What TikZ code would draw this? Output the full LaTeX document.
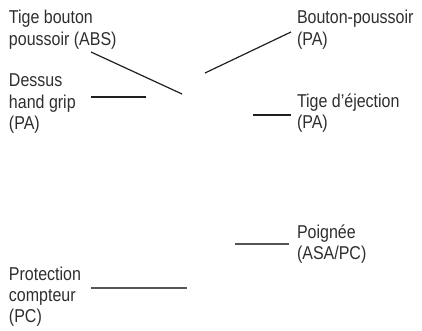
\documentclass[tikz,border=0pt]{standalone}
\usepackage{fontspec}
\setmainfont{Liberation Sans}[FakeStretch=0.86]
\definecolor{txt}{HTML}{2E2E2E}
\definecolor{dark}{HTML}{202020}
\definecolor{grey}{HTML}{555555}
\begin{document}
\begin{tikzpicture}[x=1pt,y=-1pt,
  lbl/.style={anchor=base west,inner sep=0pt,outer sep=0pt,text=txt,
    font=\fontsize{18.6}{21.3}\selectfont},
  lead/.style={line width=1.2pt,draw=dark},
  leadgrey/.style={line width=1.2pt,draw=grey}]
\useasboundingbox (0,0) rectangle (422,331);
% labels
\node[lbl] (tige) at (9,24) {\vtop{\hbox{Tige bouton}\hbox{poussoir (ABS)}}};
\node[lbl] (dessus) at (9,87) {\vtop{\hbox{Dessus}\hbox{hand grip}\hbox{(PA)}}};
\node[lbl] (bouton) at (297,24) {\vtop{\hbox{Bouton-poussoir}\hbox{(PA)}}};
\node[lbl] (eject) at (297,107.5) {\vtop{\hbox{Tige d'éjection}\hbox{(PA)}}};
\node[lbl] (poignee) at (297,238.5) {\vtop{\hbox{Poignée}\hbox{(ASA/PC)}}};
\node[lbl] (protec) at (9,280) {\vtop{\hbox{Protection}\hbox{compteur}\hbox{(PC)}}};
% leader end points
\coordinate (tigeA) at (91,52);   \coordinate (tigeB) at (182,94);
\coordinate (boutA) at (291,32);  \coordinate (boutB) at (205,73);
\coordinate (dessA) at (91,97);   \coordinate (dessB) at (146,97);
\coordinate (ejecA) at (291,115); \coordinate (ejecB) at (253,115);
\coordinate (poigA) at (289,244); \coordinate (poigB) at (235,244);
\coordinate (protA) at (91,288);  \coordinate (protB) at (187,288);
% leaders
\draw[lead] (tigeA) -- (tigeB);
\draw[lead] (boutA) -- (boutB);
\draw[lead] (dessA) -- (dessB);
\draw[lead] (ejecA) -- (ejecB);
\draw[leadgrey] (poigA) -- (poigB);
\draw[leadgrey] (protA) -- (protB);
\end{tikzpicture}
\end{document}
